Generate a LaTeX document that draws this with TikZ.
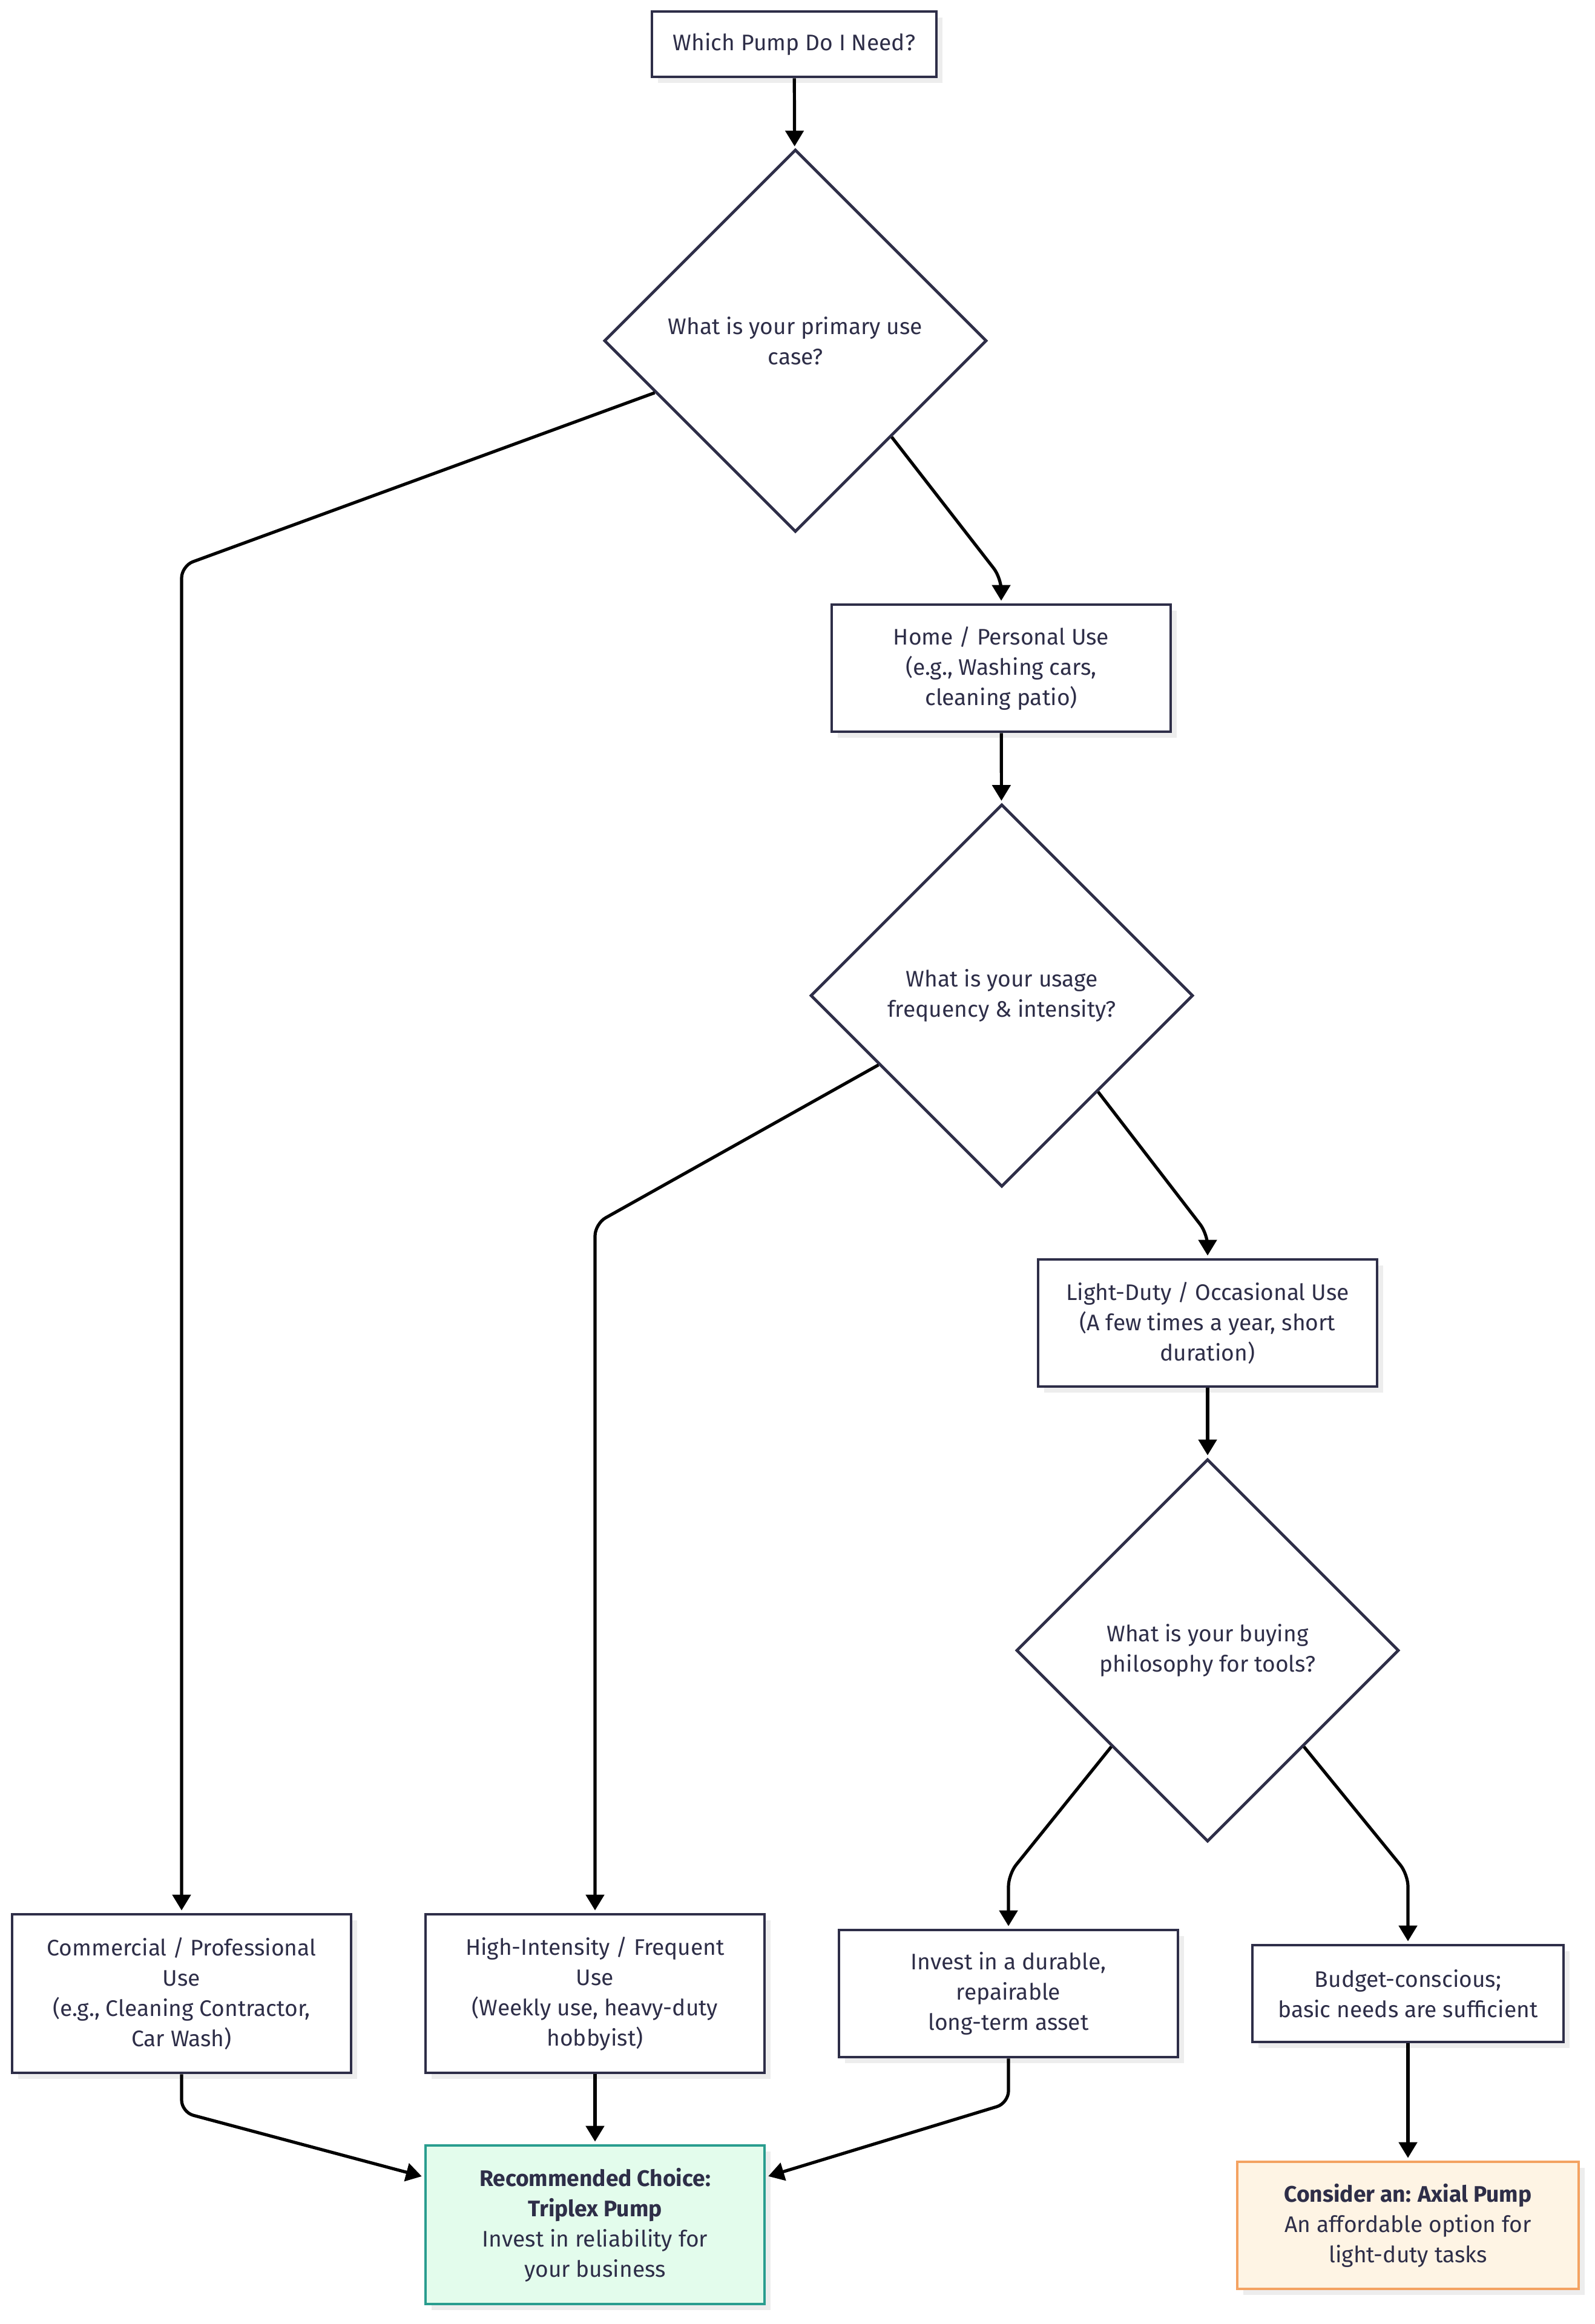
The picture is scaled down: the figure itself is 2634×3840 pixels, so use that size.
\documentclass[tikz,border=0pt]{standalone}
\usepackage{fontspec}
\setmainfont{Fira Sans}
\usetikzlibrary{shapes.geometric,arrows.meta,calc,shadows}
\definecolor{ink}{HTML}{2E2E48}
\definecolor{okfill}{HTML}{E3FCEC}
\definecolor{okline}{HTML}{2A9D8F}
\definecolor{altfill}{HTML}{FEF4E4}
\definecolor{altline}{HTML}{F4A261}
\definecolor{shade}{HTML}{EDEDED}

\begin{document}
\begin{tikzpicture}[x=0.25pt, y=-0.25pt,
  font=\fontsize{9.3}{12.5}\selectfont, text=ink,
  box/.style = {shape=rectangle, draw=ink, line width=1.2pt,
    fill=white, align=center, inner sep=2pt,
    minimum width=140pt, minimum height=52.5pt,
    drop shadow={shadow xshift=2.5pt, shadow yshift=-2.5pt,
      fill=shade, opacity=1}},
  decision/.style = {shape=diamond, draw=ink, line width=1.2pt,
    fill=white, align=center, inner sep=0pt,
    minimum width=158pt, minimum height=158pt},
  link/.style = {draw=black, line width=1.3pt, rounded corners=5pt,
    shorten >=1pt, -{Triangle[length=6.5pt,width=7.5pt]}}]
  \useasboundingbox (0,0) rectangle (2634,3840);

  \node[box, minimum width=117.5pt, minimum height=27pt] (start) at (1312,73) {Which Pump Do I Need?};
  \node[decision] (use) at (1314,563) {What is your primary use\\case?};
  \node[box] (home) at (1654,1104) {Home / Personal Use\\(e.g., Washing cars,\\cleaning patio)};
  \node[decision] (freq) at (1655,1645) {What is your usage\\frequency \& intensity?};
  \node[box] (light) at (1995,2186) {Light-Duty / Occasional Use\\(A few times a year, short\\duration)};
  \node[decision] (buy) at (1995,2727) {What is your buying\\philosophy for tools?};
  \node[box, minimum height=65.5pt] (pro) at (300,3294) {Commercial / Professional\\Use\\(e.g., Cleaning Contractor,\\Car Wash)};
  \node[box, minimum height=65.5pt] (heavy) at (983,3294) {High-Intensity / Frequent\\Use\\(Weekly use, heavy-duty\\hobbyist)};
  \node[box] (durable) at (1666,3294) {Invest in a durable,\\repairable\\long-term asset};
  \node[box, minimum width=128.5pt, minimum height=40pt] (budget) at (2326,3294) {Budget-conscious;\\basic needs are sufficient};
  \node[box, minimum height=65.5pt, fill=okfill, draw=okline] (triplex) at (983,3676)
    {\textbf{Recommended Choice:}\\\textbf{Triplex Pump}\\Invest in reliability for\\your business};
  \node[box, minimum width=141pt, fill=altfill, draw=altline] (axial) at (2326,3677)
    {\textbf{Consider an: Axial Pump}\\An affordable option for\\light-duty tasks};

  \draw[link] (start) -- (use);
  \draw[link] ($(use.west)!0.27!(use.south)$) -- (pro.north |- 0,935) -- (pro.north);
  \draw[link] (use.south east) -- (home.north |- 0,955) -- (home.north);
  \draw[link] (home) -- (freq);
  \draw[link] ($(freq.west)!0.36!(freq.south)$) -- (heavy.north |- 0,2022) -- (heavy.north);
  \draw[link] (freq.south east) -- (light.north |- 0,2039) -- (light.north);
  \draw[link] (light) -- (buy);
  \draw[link] (buy.south west) -- (durable.north |- 0,3097) -- (durable.north);
  \draw[link] (buy.south east) -- (budget.north |- 0,3097) -- (budget.north);
  \draw[link] (pro.south) -- (pro.south |- 0,3490) -- (triplex.west |- 0,3597);
  \draw[link] (heavy) -- (triplex);
  \draw[link] (durable.south) -- (durable.south |- 0,3475) -- (triplex.east |- 0,3597);
  \draw[link] (budget) -- (axial);
\end{tikzpicture}
\end{document}
